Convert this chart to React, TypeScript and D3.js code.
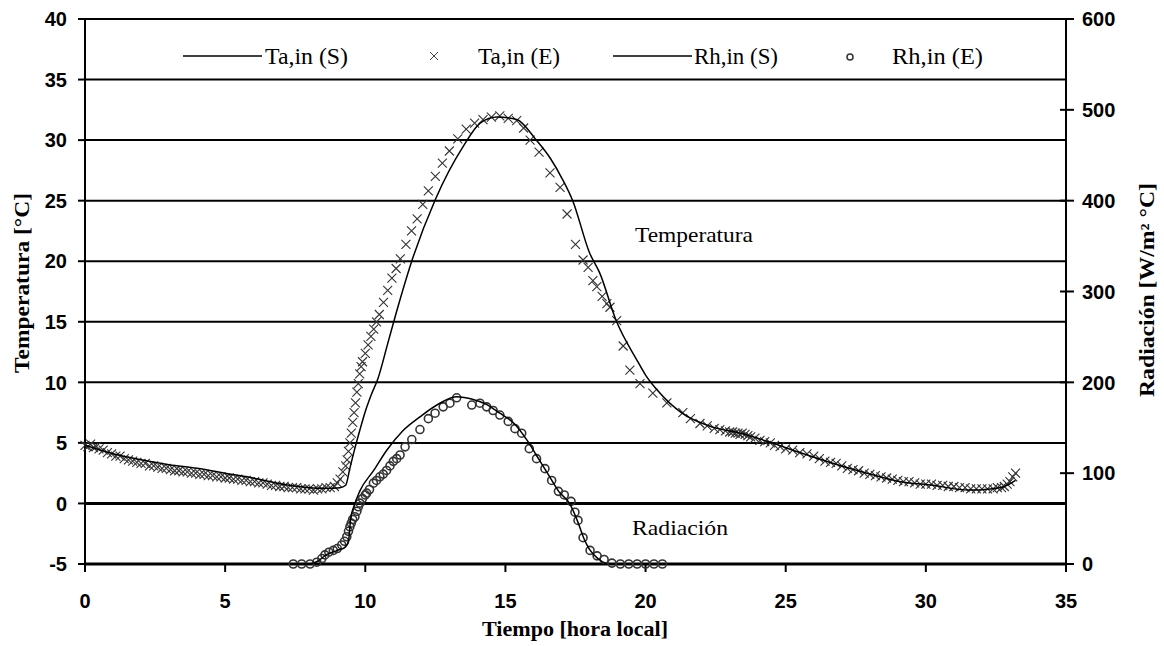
import React from "react";
import * as d3 from "d3";

// ---------- data ----------
const xTicks = [0, 5, 10, 15, 20, 25, 30, 35];
const yTicks = [-5, 0, 5, 10, 15, 20, 25, 30, 35, 40];
const y2Ticks = [0, 100, 200, 300, 400, 500, 600];

// Ta,in (S) simulated air temperature [°C]
const taS_t = [0, 1, 2, 3, 4, 5, 6, 7, 8, 8.6, 9.1, 9.3, 9.45, 9.6, 9.8, 10.0, 10.2, 10.45, 10.8, 11.1, 11.7, 12.5, 13.5, 14.1, 14.7, 15.4, 16.1, 16.6, 17.05, 17.4, 18.0, 18.37, 18.95, 19.7, 20.0, 20.4, 21.3, 22.4, 23.4, 24.5, 25.5, 26.7, 27.9, 29.1, 30.25, 31.5, 32.3, 32.8, 33.2];
const taS_v = [4.8, 4.1, 3.6, 3.2, 2.9, 2.5, 2.1, 1.6, 1.3, 1.25, 1.3, 1.5, 2.9, 4.3, 6.0, 7.6, 8.9, 10.3, 13.2, 15.7, 20.3, 25.1, 29.5, 31.4, 31.9, 31.7, 30.0, 28.5, 26.7, 25.0, 20.7, 19.0, 15.1, 11.8, 10.6, 9.4, 7.45, 6.3, 5.8, 5.0, 4.2, 3.3, 2.5, 1.8, 1.5, 1.1, 1.2, 1.4, 1.9];

// Ta,in (E) measured air temperature [°C]
const taE_t = [0, 0.1, 0.2, 0.3, 0.4, 0.5, 0.65, 0.8, 0.95, 1.1, 1.25, 1.4, 1.55, 1.7, 1.85, 2.0, 2.15, 2.3, 2.45, 2.6, 2.75, 2.9, 3.05, 3.2, 3.35, 3.5, 3.65, 3.8, 3.95, 4.1, 4.25, 4.4, 4.55, 4.7, 4.85, 5.0, 5.15, 5.3, 5.45, 5.6, 5.75, 5.9, 6.05, 6.2, 6.35, 6.5, 6.65, 6.8, 6.95, 7.1, 7.25, 7.4, 7.55, 7.7, 7.85, 8.0, 8.15, 8.3, 8.45, 8.6, 8.75, 8.9, 9.0, 9.1, 9.2,
  9.3, 9.35, 9.4, 9.45, 9.5, 9.55, 9.6, 9.65, 9.7, 9.75, 9.8, 9.85, 9.9, 10.0, 10.1, 10.2, 10.3, 10.4, 10.5, 10.65, 10.8, 10.95, 11.1, 11.25, 11.45, 11.65, 11.85, 12.05, 12.25, 12.5, 12.75, 13.0, 13.3, 13.6, 13.9, 14.2, 14.5, 14.8, 15.1, 15.4, 15.65, 15.88, 16.2, 16.59, 16.95, 17.2, 17.5, 17.77, 17.95, 18.12, 18.26, 18.45, 18.62, 18.73, 18.97, 19.2, 19.44, 19.8, 20.26, 20.76, 21.33,
  21.6, 21.94, 22.2, 22.45, 22.65, 22.85, 23.0, 23.1, 23.2, 23.3, 23.37, 23.45, 23.55, 23.65, 23.75, 23.9, 24.08, 24.25, 24.45, 24.6, 24.8, 25.0, 25.25, 25.5, 25.76, 26.0, 26.2, 26.4, 26.6, 26.8, 27.0, 27.2, 27.4, 27.6, 27.8, 28.0, 28.2, 28.4, 28.6, 28.8, 29.0, 29.2, 29.4, 29.6, 29.8, 30.0, 30.2, 30.4, 30.6, 30.8, 31.0, 31.2, 31.4, 31.6, 31.8, 32.0, 32.2, 32.4, 32.55, 32.7, 32.8, 32.9, 33.0, 33.1, 33.2];
const taE_v = [4.8, 4.7, 4.9, 4.6, 4.7, 4.5, 4.4, 4.2, 4.1, 3.9, 3.9, 3.7, 3.6, 3.5, 3.4, 3.3, 3.3, 3.1, 3.1, 3.0, 2.9, 2.9, 2.8, 2.7, 2.7, 2.6, 2.6, 2.5, 2.5, 2.4, 2.4, 2.3, 2.3, 2.2, 2.2, 2.1, 2.1, 2.0, 2.0, 1.9, 1.9, 1.8, 1.8, 1.7, 1.7, 1.6, 1.5, 1.5, 1.4, 1.4, 1.3, 1.3, 1.3, 1.2, 1.2, 1.2, 1.1, 1.2, 1.2, 1.3, 1.3, 1.4, 1.7, 2.0, 2.6,
  3.1, 3.6, 4.3, 5.0, 5.8, 6.7, 7.5, 8.3, 9.2, 9.9, 10.7, 11.3, 11.7, 12.4, 13.1, 13.8, 14.4, 15.0, 15.6, 16.6, 17.6, 18.6, 19.4, 20.2, 21.4, 22.5, 23.5, 24.7, 25.8, 27.0, 28.1, 29.1, 30.1, 30.9, 31.4, 31.7, 31.9, 32.0, 31.8, 31.6, 31.0, 30.0, 29.0, 27.3, 26.1, 23.9, 21.4, 20.1, 19.5, 18.4, 17.9, 17.1, 16.5, 16.2, 15.1, 13.0, 11.0, 9.9, 9.1, 8.3, 7.5,
  7.0, 6.6, 6.4, 6.2, 6.1, 6.0, 5.9, 5.9, 5.8, 5.8, 5.7, 5.8, 5.7, 5.6, 5.5, 5.4, 5.2, 5.1, 5.0, 4.8, 4.7, 4.5, 4.4, 4.2, 4.1, 3.9, 3.7, 3.5, 3.4, 3.3, 3.1, 2.9, 2.8, 2.7, 2.5, 2.4, 2.3, 2.2, 2.1, 2.0, 1.9, 1.8, 1.8, 1.7, 1.6, 1.6, 1.6, 1.5, 1.5, 1.4, 1.4, 1.3, 1.3, 1.2, 1.2, 1.2, 1.2, 1.2, 1.3, 1.3, 1.4, 1.6, 1.8, 2.2, 2.5];

// Rh,in (S) simulated radiation [W/m²]
const rhS_t = [7.5, 8.0, 8.3, 8.6, 9.0, 9.3, 9.4, 9.48, 9.6, 9.8, 10.3, 10.76, 11.35, 11.95, 12.66, 13.26, 13.85, 14.3, 14.8, 15.3, 15.8, 16.1, 16.5, 16.9, 17.3, 17.6, 17.8, 18.0, 18.3, 18.6];
const rhS_v = [0, 0, 3, 10, 15, 19, 25, 50, 64, 80, 103, 125, 147, 162, 177, 184, 181, 176, 166, 155, 135, 120, 100, 80, 66, 45, 28, 16, 6, 0];

// Rh,in (E) measured radiation [W/m²]
const rhE_t = [7.43, 7.73, 8.03, 8.27, 8.45, 8.56, 8.7, 8.86, 9.0, 9.16, 9.26, 9.34, 9.4, 9.45, 9.5, 9.55, 9.63, 9.7, 9.75, 9.81, 9.9, 10.0, 10.05, 10.15, 10.29, 10.4, 10.52, 10.64, 10.76, 10.88, 11.0, 11.12, 11.24, 11.42, 11.66, 11.95, 12.25, 12.49, 12.78, 13.02, 13.26, 13.8, 14.09, 14.33, 14.56, 14.8, 15.1, 15.34, 15.58, 15.85, 16.11, 16.41, 16.65, 16.89, 17.1, 17.34, 17.48, 17.59, 17.77, 18.02, 18.27, 18.52, 18.8, 19.1, 19.4, 19.7, 20.0, 20.3, 20.6];
const rhE_v = [0, 0, 0, 2, 6, 10, 13, 15, 17, 21, 25, 30, 36, 41, 45, 49, 52, 58, 63, 67, 72, 76, 78, 82, 89, 92, 96, 99, 103, 108, 113, 116, 120, 129, 137, 148, 160, 166, 173, 177, 183, 175, 177, 173, 169, 164, 157, 149, 144, 127, 116, 105, 92, 80, 76, 69, 57, 48, 29, 15, 9, 5, 1, 0, 0, 0, 0, 0, 0];

// ---------- layout ----------
const W = 1164;
const H = 646;
const L = 85;
const R = 1066;
const T = 19;
const B = 564;

export default function App() {
  const x = d3.scaleLinear().domain([0, 35]).range([L, R]);
  const y = d3.scaleLinear().domain([-5, 40]).range([B, T]);
  const y2 = d3.scaleLinear().domain([0, 600]).range([B, T]);

  const lineT = d3
    .line<number>()
    .x((_, i) => x(taS_t[i]))
    .y((d) => y(d))
    .curve(d3.curveMonotoneX);
  const lineR = d3
    .line<number>()
    .x((_, i) => x(rhS_t[i]))
    .y((d) => y2(d))
    .curve(d3.curveMonotoneX);

  const tickFont = {
    fontFamily: "'Liberation Sans', Arial, sans-serif",
    fontWeight: 700 as const,
    fontSize: 20,
  };
  const serif = "'Liberation Serif', 'Times New Roman', serif";
  const cs = 4.5;

  return (
    <svg
      width={W}
      height={H}
      viewBox={`0 0 ${W} ${H}`}
      style={{ position: "absolute", left: 0, top: 0, background: "#fff" }}
    >
      <rect x={0} y={0} width={W} height={H} fill="#fff" />
      {/* gridlines */}
      {yTicks.map((v) => (
        <line
          key={"g" + v}
          x1={L}
          x2={R}
          y1={y(v)}
          y2={y(v)}
          stroke="#000"
          strokeWidth={v === -5 || v === 0 ? 3 : 2}
        />
      ))}
      {/* axes */}
      <line x1={L} x2={L} y1={T} y2={B + 1} stroke="#000" strokeWidth={2} />
      <line x1={R} x2={R} y1={T} y2={B + 1} stroke="#000" strokeWidth={2} />
      {/* left ticks */}
      {yTicks.map((v) => (
        <g key={"yl" + v}>
          <line x1={78} x2={L} y1={y(v)} y2={y(v)} stroke="#000" strokeWidth={2} />
          <text x={67} y={y(v)} dy="0.36em" textAnchor="end" {...tickFont}>
            {v}
          </text>
        </g>
      ))}
      {/* right ticks */}
      {y2Ticks.map((v) => (
        <g key={"yr" + v}>
          <line x1={1060} x2={1074} y1={y2(v)} y2={y2(v)} stroke="#000" strokeWidth={2} />
          <text x={1082} y={y2(v)} dy="0.36em" textAnchor="start" {...tickFont}>
            {v}
          </text>
        </g>
      ))}
      {/* bottom ticks */}
      {xTicks.map((v) => (
        <g key={"x" + v}>
          <line x1={x(v)} x2={x(v)} y1={B} y2={572} stroke="#000" strokeWidth={2} />
          <text x={x(v)} y={608} textAnchor="middle" {...tickFont}>
            {v}
          </text>
        </g>
      ))}

      {/* series */}
      {taE_v.map((v, i) => {
        const cx = x(taE_t[i]);
        const cy = y(v);
        return (
          <path
            key={"te" + i}
            d={`M${cx - cs},${cy - cs}L${cx + cs},${cy + cs}M${cx - cs},${cy + cs}L${cx + cs},${cy - cs}`}
            stroke="#333"
            strokeWidth={1.1}
            fill="none"
          />
        );
      })}
      {rhE_v.map((v, i) => (
        <circle
          key={"re" + i}
          cx={x(rhE_t[i])}
          cy={y2(v)}
          r={4}
          fill="none"
          stroke="#333"
          strokeWidth={1.6}
        />
      ))}
      <path d={lineT(taS_v) || ""} fill="none" stroke="#000" strokeWidth={1.5} />
      <path d={lineR(rhS_v) || ""} fill="none" stroke="#000" strokeWidth={1.5} />

      {/* annotations */}
      <text x={635} y={242} fontFamily={serif} fontSize={22} textLength={118} lengthAdjust="spacingAndGlyphs">
        Temperatura
      </text>
      <text x={632} y={535} fontFamily={serif} fontSize={22} textLength={96} lengthAdjust="spacingAndGlyphs">
        Radiación
      </text>

      {/* legend */}
      <line x1={183} x2={262} y1={56} y2={56} stroke="#000" strokeWidth={1.5} />
      <text x={265} y={64} fontFamily={serif} fontSize={23} textLength={83} lengthAdjust="spacingAndGlyphs">
        Ta,in (S)
      </text>
      <path d="M430,52L438,60M430,60L438,52" stroke="#444" strokeWidth={1} />
      <text x={478} y={64} fontFamily={serif} fontSize={23} textLength={82} lengthAdjust="spacingAndGlyphs">
        Ta,in (E)
      </text>
      <line x1={613} x2={692} y1={56} y2={56} stroke="#000" strokeWidth={1.5} />
      <text x={694} y={64} fontFamily={serif} fontSize={23} textLength={84} lengthAdjust="spacingAndGlyphs">
        Rh,in (S)
      </text>
      <circle cx={850} cy={57} r={3} fill="none" stroke="#333" strokeWidth={1.5} />
      <text x={892} y={64} fontFamily={serif} fontSize={23} textLength={91} lengthAdjust="spacingAndGlyphs">
        Rh,in (E)
      </text>

      {/* axis titles */}
      <text
        transform={`translate(29,283) rotate(-90)`}
        textAnchor="middle"
        fontFamily={serif}
        fontWeight={700}
        fontSize={20}
        textLength={180}
        lengthAdjust="spacingAndGlyphs"
      >
        Temperatura [°C]
      </text>
      <text
        transform={`translate(1154,290) rotate(-90)`}
        textAnchor="middle"
        fontFamily={serif}
        fontWeight={700}
        fontSize={20}
        textLength={214}
        lengthAdjust="spacingAndGlyphs"
      >
        Radiación [W/m² °C]
      </text>
      <text
        x={575}
        y={636}
        textAnchor="middle"
        fontFamily={serif}
        fontWeight={700}
        fontSize={20}
        textLength={186}
        lengthAdjust="spacingAndGlyphs"
      >
        Tiempo [hora local]
      </text>
    </svg>
  );
}
